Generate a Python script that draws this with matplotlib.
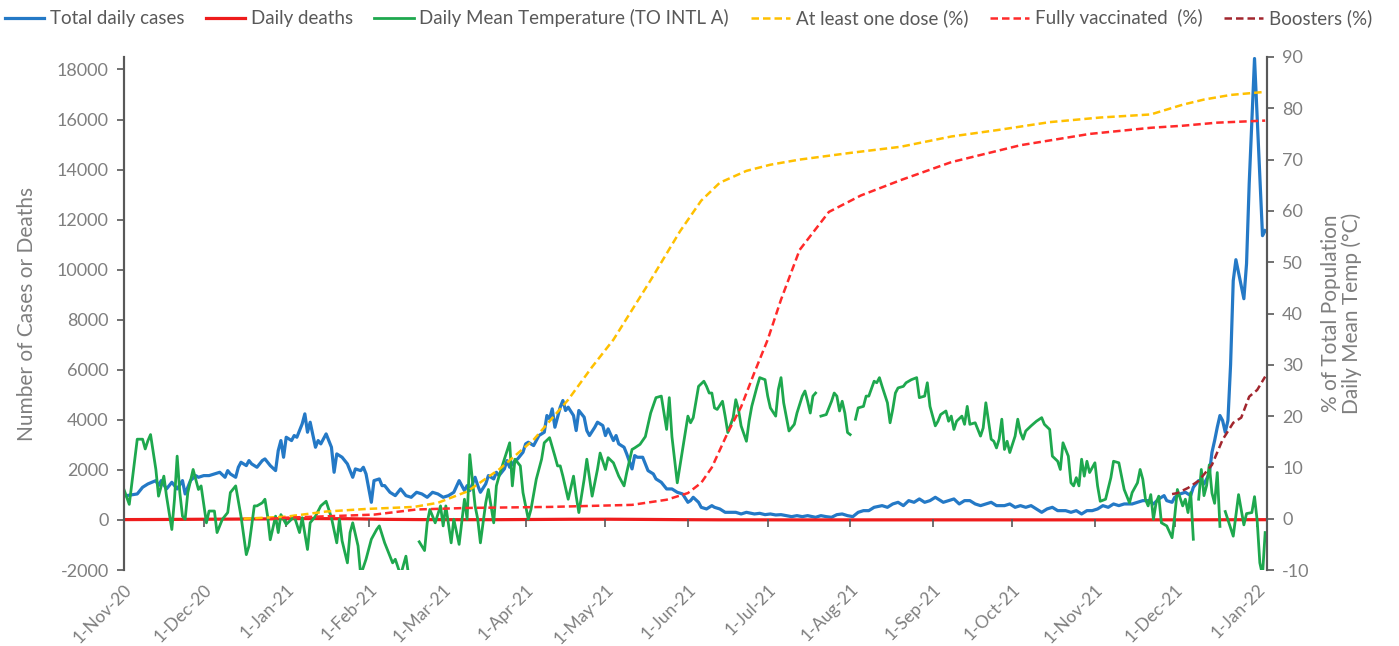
import numpy as np
import matplotlib
matplotlib.use('Agg')
import matplotlib.pyplot as plt
import matplotlib.dates as mdates

plt.rcParams['font.family'] = ['Lato', 'DejaVu Sans']
plt.rcParams['axes.unicode_minus'] = False

start = np.datetime64('2020-11-01')

# days counted from 1-Nov-20
case_days = [1, 5, 7, 9, 12, 13, 14, 16, 18, 20, 22, 23, 25, 27, 28, 30, 32, 34, 36, 38,
             39, 40, 42, 43, 44, 46, 47, 48, 50, 52, 53, 55, 57, 58, 59, 60, 61, 63, 64, 65,
             67, 68, 69, 70, 72, 73, 74, 76, 78, 79, 80, 82, 84, 86, 87, 89, 90, 91, 93, 94,
             96, 97, 98, 100, 102, 104, 106, 108, 110, 112, 114, 116, 118, 120, 122, 124, 126, 128, 129, 130,
             132, 133, 134, 136, 137, 139, 140, 141, 143, 144, 145, 147, 148, 150, 151, 152, 154, 155, 156, 158,
             159, 160, 161, 162, 164, 165, 166, 167, 169, 170, 171, 173, 174, 175, 177, 178, 180, 181, 182, 184,
             185, 186, 188, 189, 191, 192, 193, 195, 196, 197, 199, 200, 202, 204, 206, 208, 210, 212, 213, 214,
             216, 217, 219, 221, 222, 224, 226, 228, 230, 232, 234, 237, 239, 241, 243, 245, 247, 249, 251, 253,
             255, 257, 260, 262, 264, 266, 268, 270, 272, 274, 276, 278, 280, 282, 285, 287, 289, 291, 293, 295,
             297, 299, 301, 303, 305, 308, 310, 312, 314, 316, 318, 320, 322, 324, 326, 328, 331, 333, 335, 337,
             339, 341, 343, 345, 347, 349, 351, 354, 356, 358, 360, 362, 364, 366, 368, 370, 372, 374, 376, 379,
             381, 383, 385, 387, 389, 391, 392, 394, 395, 397, 399, 401, 402, 404, 405, 406, 408, 409, 410, 411,
             412, 413, 414, 415, 416, 417, 418, 421, 422, 423, 425, 426, 428, 429]
cases = [973, 1040, 1306, 1440, 1573, 1373, 1573, 1240, 1506, 1240, 1573, 1040, 1573, 1773, 1706, 1773, 1773, 1840, 1906, 1706,
         1973, 1840, 1706, 2106, 2306, 2173, 2373, 2240, 2106, 2373, 2440, 2173, 1973, 2773, 3173, 2506, 3306, 3173, 3373, 3306,
         3840, 4240, 3506, 3906, 2906, 3173, 3040, 3440, 2906, 1906, 2640, 2506, 2240, 1706, 2040, 1973, 2106, 1840, 706, 1573,
         1640, 1373, 1373, 1106, 973, 1240, 973, 906, 1106, 1040, 906, 1106, 1040, 906, 973, 1106, 1573, 1173, 1373, 1173,
         1706, 1373, 1106, 1440, 1773, 1640, 1906, 1773, 2040, 2373, 2106, 2373, 2440, 2706, 3040, 3106, 2973, 3173, 3373, 3506,
         4173, 4040, 4440, 3706, 4506, 4773, 4373, 4506, 4173, 3573, 4373, 4106, 3573, 3373, 3706, 3906, 3773, 3373, 3640, 3173,
         3373, 3040, 2906, 2640, 2040, 2573, 2506, 2506, 2240, 1973, 1840, 1640, 1506, 1240, 1240, 1106, 1040, 706, 773, 906,
         706, 506, 440, 573, 506, 440, 306, 306, 306, 240, 306, 240, 266, 213, 240, 200, 213, 173, 133, 173,
         133, 173, 107, 173, 133, 107, 213, 240, 173, 133, 306, 373, 373, 506, 573, 506, 640, 706, 573, 773,
         706, 840, 706, 773, 906, 706, 773, 840, 640, 773, 773, 640, 573, 640, 706, 573, 573, 640, 506, 573,
         506, 573, 440, 306, 440, 506, 373, 373, 306, 373, 240, 373, 373, 440, 573, 506, 640, 573, 640, 640,
         706, 773, 773, 640, 840, 973, 773, 706, 906, 1040, 1106, 973, 1306, 1573, 1506, 1440, 1840, 2700, 3173, 3706,
         4173, 3973, 3506, 3973, 6200, 9560, 10400, 8840, 10240, 13440, 18440, 16080, 11360, 11560]

death_days = [0, 14, 28, 42, 56, 70, 84, 98, 112, 126, 140, 154, 168, 182, 196, 210, 224, 252, 280, 310,
              340, 370, 400, 429]
deaths = [15, 20, 28, 35, 45, 55, 50, 25, 15, 12, 12, 20, 28, 30, 22, 12, 6, 4, 4, 5,
          4, 5, 6, 12]

nan = np.nan
temp_days = [0, 2, 5, 7, 8, 9, 10, 12, 13, 15, 16, 18, 19, 20, 21, 22, 23, 24, 26, 28,
             29, 31, 32, 34, 35, 37, 39, 40, 42, 44, 46, 47, 49, 50, 52, 53, 54, 55, 57, 58,
             59, 61, 63, 64, 66, 67, 69, 70, 72, 74, 76, 77, 78, 80, 81, 82, 84, 85, 86, 88,
             89, 91, 93, 95, 96, 98, 100, 101, 102, 104, 106, 107, 108, 111, 113, 114, 115, 117, 119, 120,
             121, 123, 124, 126, 128, 129, 130, 132, 133, 134, 136, 137, 139, 140, 141, 143, 145, 146, 147, 149,
             150, 152, 153, 155, 157, 158, 160, 162, 163, 164, 165, 167, 169, 170, 171, 173, 174, 176, 178, 179,
             181, 182, 184, 186, 188, 189, 191, 192, 194, 196, 198, 200, 202, 204, 205, 206, 208, 210, 212, 213,
             214, 216, 218, 219, 220, 221, 222, 223, 225, 226, 227, 229, 230, 231, 232, 234, 235, 236, 238, 239,
             241, 242, 243, 245, 246, 247, 248, 250, 252, 253, 255, 256, 257, 258, 259, 260, 261, 262, 264, 266,
             267, 268, 269, 270, 271, 272, 273, 274, 275, 276, 278, 279, 280, 282, 283, 284, 285, 287, 288, 289,
             290, 291, 293, 294, 296, 298, 299, 301, 302, 303, 305, 306, 307, 309, 310, 311, 312, 313, 315, 316,
             317, 318, 320, 321, 322, 323, 324, 326, 327, 328, 329, 330, 331, 332, 333, 335, 336, 337, 338, 339,
             341, 343, 345, 346, 348, 349, 351, 352, 353, 355, 356, 357, 358, 359, 360, 361, 362, 363, 365, 366,
             367, 369, 371, 372, 374, 375, 376, 378, 379, 381, 382, 383, 384, 385, 386, 387, 388, 389, 390, 392,
             394, 395, 396, 398, 399, 400, 401, 402, 403, 404, 405, 406, 407, 408, 409, 410, 411, 412, 413, 414,
             417, 419, 421, 422, 424, 425, 426, 427, 428, 429]
temps = [5.7, 2.8, 15.5, 15.5, 13.6, 15.2, 16.4, 9.6, 4.4, 8.3, 4.4, -2.1, 3.8, 12.2, 5.1, 0.5, -0.1, 5.1, 9.6, 5.7,
         6.4, -0.8, 1.5, 1.5, -2.7, -0.1, 1.2, 5.1, 6.4, 0.5, -7.0, -5.3, 2.5, 2.5, 3.1, 3.8, 0.5, -4.1, 0.5, -2.7,
         0.8, -1.1, -0.1, 0.5, -2.7, 0.2, -6.0, -0.8, 0.5, 2.5, 3.4, 1.8, 0.2, -4.7, -0.1, -4.3, -8.6, -2.7, -0.8, -5.3,
         -11.0, -7.9, -4.0, -2.1, -1.4, -4.7, -7.3, -8.6, -7.9, -11.0, -7.3, -11.0, nan, -4.5, -6.2, -0.8, 1.8, -0.8, 2.5, -1.4,
         2.5, -4.7, -0.1, -5.0, 3.8, -0.1, 12.5, 2.5, -0.1, -4.7, 3.1, 5.7, -0.8, 6.4, 8.3, 11.6, 14.8, 6.4, 11.6, 10.3,
         5.1, -0.1, 1.8, 7.7, 11.6, 14.8, 15.8, 12.2, 10.3, 10.3, 8.3, 3.8, 8.3, 4.4, 1.2, 7.7, 11.6, 4.4, 9.6, 12.8,
         9.6, 11.9, 10.9, 8.3, 6.4, 9.0, 13.5, 13.8, 14.5, 16.0, 20.6, 23.6, 23.9, 17.4, 23.6, 16.0, 7.0, 13.5, 20.0, 18.7,
         19.7, 25.8, 26.8, 25.8, 24.5, 24.5, 21.6, 21.3, 22.9, 20.0, 16.8, 19.7, 23.2, 21.3, 18.1, 15.1, 19.0, 21.9, 25.8, 27.5,
         27.1, 23.9, 21.6, 20.0, 25.2, 27.5, 22.6, 17.1, 18.4, 20.6, 23.9, 24.9, 22.9, 20.6, 23.9, 24.5, nan, 20.0, 20.3, 22.9,
         24.5, 23.9, 21.0, 22.9, 20.6, 16.8, 16.4, nan, 19.4, 21.6, 21.9, 23.9, 23.9, 26.8, 26.5, 27.5, 25.8, 22.6, 18.7, 21.3,
         24.5, 25.5, 25.8, 26.5, 27.1, 27.5, 23.6, 23.9, 26.5, 21.9, 18.1, 19.0, 20.3, 21.0, 19.0, 20.0, 17.4, 19.0, 20.0, 18.4,
         21.9, 18.4, 18.7, 17.4, 16.1, 17.7, 22.6, 15.5, 15.1, 13.8, 15.5, 19.4, 13.5, 15.1, 12.9, 16.1, 19.4, 16.8, 15.5, 17.1,
         18.1, 19.0, 19.7, 18.4, 17.4, 12.2, 11.2, 9.6, 14.8, 12.2, 7.0, 6.4, 8.0, 6.4, 11.6, 8.3, 11.2, 9.0, 10.9, 6.4,
         3.4, 3.8, 8.0, 11.2, 10.9, 8.3, 5.7, 3.1, 5.1, 7.0, 9.6, 7.7, 3.8, 2.5, 4.7, -0.1, 3.1, 4.4, -0.8, -1.4,
         -3.7, 0.5, 5.7, 2.5, 3.8, 1.2, 5.1, -4.0, nan, 3.8, 9.6, 4.5, 6.5, 10.5, 5.0, 3.0, 9.0, -1.5, nan, 1.4,
         -3.4, 4.7, -1.2, 1.0, 1.2, 4.3, -0.4, -8.6, -11.0, -2.7]

dose1_days = [45, 61, 76, 91, 109, 118, 129, 141, 154, 167, 176, 184, 198, 209, 217, 224, 234, 243, 254, 273,
              292, 311, 329, 348, 367, 386, 398, 406, 416, 429]
dose1 = [0.0, 0.4, 1.4, 1.9, 2.3, 3.1, 5.3, 9.6, 15.4, 23.2, 29.6, 34.9, 46.5, 56.0, 62.0, 65.5, 67.8, 69.0, 70.0, 71.3,
         72.5, 74.5, 75.8, 77.3, 78.2, 78.8, 80.7, 81.7, 82.6, 83.2]

full_days = [55, 61, 94, 110, 129, 160, 191, 204, 212, 217, 221, 227, 232, 237, 242, 247, 254, 265, 277, 292,
             311, 337, 363, 386, 398, 411, 429]
full = [0.0, 0.2, 0.8, 1.8, 2.1, 2.3, 2.7, 3.7, 5.0, 7.0, 10.0, 16.8, 21.8, 28.5, 34.9, 42.7, 52.4, 59.8, 63.0, 66.0,
        69.5, 72.8, 75.0, 76.2, 76.6, 77.2, 77.6]

boost_days = [394, 396, 400, 404, 409, 413, 417, 420, 423, 426, 429]
boost = [4.8, 5.0, 6.0, 7.4, 10.5, 15.4, 18.7, 19.7, 23.8, 25.1, 27.7]


def to_dates(days):
    return start + np.array(days, dtype='timedelta64[D]')


grey = '#7f7f7f'
spine_col = '#595959'

fig = plt.figure(figsize=(13.99, 6.46), dpi=100)
ax = fig.add_axes([0.0886, 0.1176, 0.8170, 0.7942])
ax2 = ax.twinx()

ax.plot(to_dates(case_days), cases, color='#2479c6', lw=2.3, label='Total daily cases')
ax.plot(to_dates(death_days), deaths, color='#ee1c1c', lw=2.3, label='Daily deaths')
ax2.plot(to_dates(temp_days), temps, color='#1ea84e', lw=2.0,
         label='Daily Mean Temperature (TO INTL A)')
ax2.plot(to_dates(dose1_days), dose1, color='#ffc000', lw=1.8, ls=(0, (3, 1.6)),
         label='At least one dose (%)')
ax2.plot(to_dates(full_days), full, color='#ff2a2a', lw=1.8, ls=(0, (3, 1.6)),
         label='Fully vaccinated  (%)')
ax2.plot(to_dates(boost_days), boost, color='#a2262e', lw=1.8, ls=(0, (3, 1.6)),
         label='Boosters (%)')

ax.set_xlim(start, np.datetime64('2022-01-04T16:00'))
ax.set_ylim(-2000, 18500)
ax2.set_ylim(-10, 90)
ax.set_yticks(np.arange(-2000, 18001, 2000))
ax2.set_yticks(np.arange(-10, 91, 10))

ax.xaxis.set_major_locator(mdates.MonthLocator(bymonthday=1))
ax.xaxis.set_major_formatter(mdates.DateFormatter('%-d-%b-%y'))
ax.tick_params(axis='x', length=0, pad=8, labelsize=12.5, labelcolor=grey)
for lbl in ax.get_xticklabels():
    lbl.set_rotation(45)
    lbl.set_ha('right')
    lbl.set_rotation_mode('anchor')

ax.tick_params(axis='y', direction='out', length=5, width=1.2, color=spine_col,
               labelsize=13, labelcolor=grey, pad=6)
ax2.tick_params(axis='y', direction='out', length=5, width=1.2, color=spine_col,
                labelsize=13, labelcolor=grey, pad=6)

for a in (ax, ax2):
    a.spines['top'].set_visible(False)
    a.spines['bottom'].set_visible(False)
    a.spines['left'].set_color(spine_col)
    a.spines['right'].set_color(spine_col)
    a.spines['left'].set_linewidth(1.5)
    a.spines['right'].set_linewidth(1.5)

# category axis crosses at zero: small month ticks there
sec = ax2.secondary_xaxis(0, transform=ax2.transData)
sec.xaxis.set_major_locator(mdates.MonthLocator(bymonthday=1))
sec.tick_params(axis='x', direction='out', length=6, width=1.2, color=spine_col, labelbottom=False)
sec.spines['bottom'].set_visible(False)

ax.set_ylabel('Number of Cases or Deaths', fontsize=15, color=grey, labelpad=14)
ax2.set_ylabel('% of Total Population\nDaily Mean Temp (°C)', fontsize=15, color=grey,
               labelpad=8, linespacing=1.05)

h1, l1 = ax.get_legend_handles_labels()
h2, l2 = ax2.get_legend_handles_labels()
fig.legend(h1 + h2, l1 + l2, loc='upper center', bbox_to_anchor=(0.492, 1.012), ncol=6,
           frameon=False, fontsize=13.5, labelcolor='#595959', handlelength=2.1,
           handletextpad=0.3, columnspacing=1.15)

fig.savefig('out.png', dpi=100)
